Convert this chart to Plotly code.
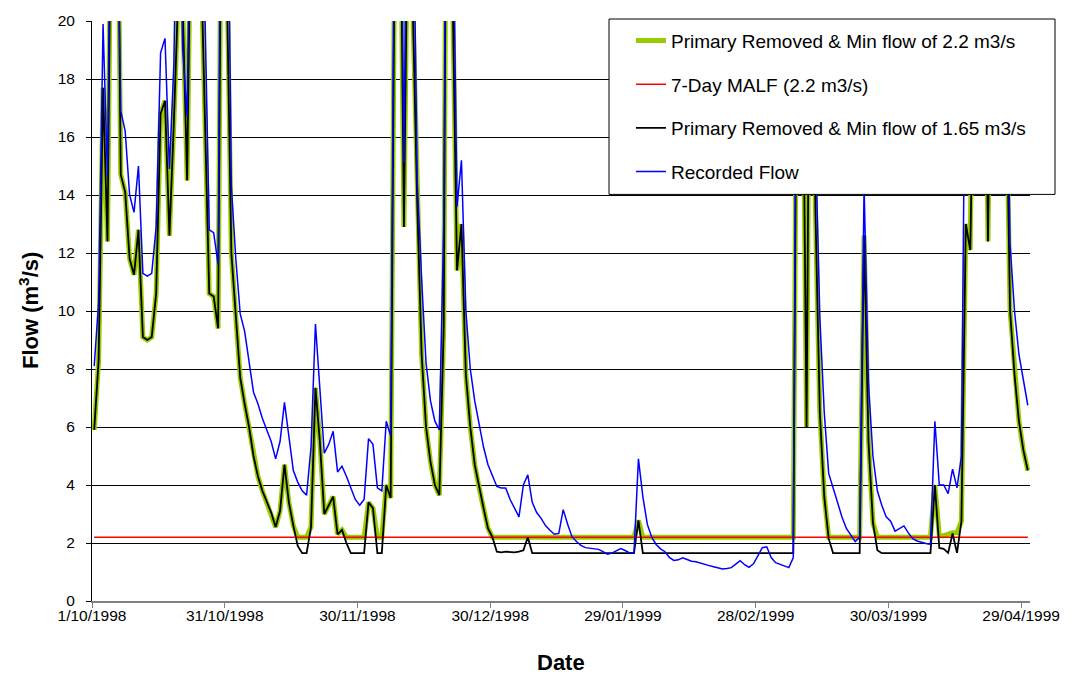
import pandas as pd
import plotly.graph_objects as go

# Daily flows, 1 Oct 1998 - 30 Apr 1999 (m3/s)
START_DATE = "1998-10-01"

primary_removed_min_2_2 = [
    5.9, 8.3, 17.7, 12.4, 28, 30, 14.7, 14.1, 11.8, 11.25,
    12.8, 9.1, 9.0, 9.1, 10.6, 16.8, 17.25, 12.6, 16.5, 21,
    20.5, 14.5, 26, 30, 23, 17, 10.6, 10.5, 9.4, 32,
    21, 12.0, 9.8, 7.7, 6.8, 6.0, 5.0, 4.3, 3.8, 3.4,
    3.05, 2.55, 3.1, 4.7, 3.4, 2.6, 2.2, 2.2, 2.2, 2.55,
    7.35, 5.5, 3.0, 3.3, 3.6, 2.3, 2.45, 2.2, 2.2, 2.2,
    2.2, 2.2, 3.4, 3.2, 2.2, 2.2, 4.0, 3.55, 25, 28,
    12.9, 26, 20.5, 13.75, 8.5, 6.0, 4.8, 4.0, 3.65, 9.5,
    40, 21, 11.4, 13.0, 7.8, 6.0, 4.7, 3.9, 3.2, 2.5,
    2.2, 2.2, 2.2, 2.2, 2.2, 2.2, 2.2, 2.2, 2.2, 2.2,
    2.2, 2.2, 2.2, 2.2, 2.2, 2.2, 2.2, 2.2, 2.2, 2.2,
    2.2, 2.2, 2.2, 2.2, 2.2, 2.2, 2.2, 2.2, 2.2, 2.2,
    2.2, 2.2, 2.2, 2.78, 2.2, 2.2, 2.2, 2.2, 2.2, 2.2,
    2.2, 2.2, 2.2, 2.2, 2.2, 2.2, 2.2, 2.2, 2.2, 2.2,
    2.2, 2.2, 2.2, 2.2, 2.2, 2.2, 2.2, 2.2, 2.2, 2.2,
    2.2, 2.2, 2.2, 2.2, 2.2, 2.2, 2.2, 2.2, 2.2, 25,
    22, 6.0, 28, 13.5, 6.5, 3.6, 2.2, 2.2, 2.2, 2.2,
    2.2, 2.2, 2.2, 2.2, 12.6, 5.5, 2.7, 2.2, 2.2, 2.2,
    2.2, 2.2, 2.2, 2.2, 2.2, 2.2, 2.2, 2.2, 2.2, 2.2,
    4.0, 2.25, 2.25, 2.3, 2.35, 2.35, 2.75, 13.0, 12.1, 28,
    30, 26, 12.4, 25, 30, 24, 19, 10.0, 7.8, 6.2,
    5.2, 4.5,
]

primary_removed_min_1_65 = [
    5.9, 8.3, 17.7, 12.4, 28, 30, 14.7, 14.1, 11.8, 11.25,
    12.8, 9.1, 9.0, 9.1, 10.6, 16.8, 17.25, 12.6, 16.5, 21,
    20.5, 14.5, 26, 30, 23, 17, 10.6, 10.5, 9.4, 32,
    21, 12.0, 9.8, 7.7, 6.8, 6.0, 5.0, 4.3, 3.8, 3.4,
    3.05, 2.55, 3.1, 4.7, 3.4, 2.6, 1.9, 1.65, 1.65, 2.55,
    7.35, 5.5, 3.0, 3.3, 3.6, 2.3, 2.45, 2.0, 1.65, 1.65,
    1.65, 1.65, 3.4, 3.2, 1.65, 1.65, 4.0, 3.55, 25, 28,
    12.9, 26, 20.5, 13.75, 8.5, 6.0, 4.8, 4.0, 3.65, 9.5,
    40, 21, 11.4, 13.0, 7.8, 6.0, 4.7, 3.9, 3.2, 2.5,
    2.2, 1.7, 1.68, 1.7, 1.68, 1.68, 1.7, 1.75, 2.2, 1.65,
    1.65, 1.65, 1.65, 1.65, 1.65, 1.65, 1.65, 1.65, 1.65, 1.65,
    1.65, 1.65, 1.65, 1.65, 1.65, 1.65, 1.65, 1.65, 1.65, 1.65,
    1.65, 1.65, 1.65, 2.78, 1.65, 1.65, 1.65, 1.65, 1.65, 1.65,
    1.65, 1.65, 1.65, 1.65, 1.65, 1.65, 1.65, 1.65, 1.65, 1.65,
    1.65, 1.65, 1.65, 1.65, 1.65, 1.65, 1.65, 1.65, 1.65, 1.65,
    1.65, 1.65, 1.65, 1.65, 1.65, 1.65, 1.65, 1.65, 1.65, 25,
    22, 6.0, 28, 13.5, 6.5, 3.6, 2.15, 1.65, 1.65, 1.65,
    1.65, 1.65, 1.65, 1.65, 12.6, 5.5, 2.7, 1.75, 1.65, 1.65,
    1.65, 1.65, 1.65, 1.65, 1.65, 1.65, 1.65, 1.65, 1.65, 1.65,
    4.0, 1.83, 1.8, 1.66, 2.33, 1.66, 2.75, 13.0, 12.1, 28,
    30, 26, 12.4, 25, 30, 24, 19, 10.0, 7.8, 6.2,
    5.2, 4.5,
]

recorded_flow = [
    8.1, 10.3, 19.9, 14.6, 30, 27, 16.9, 16.2, 14.0, 13.4,
    15.0, 11.3, 11.2, 11.3, 12.9, 18.9, 19.4, 14.9, 18.5, 28,
    19, 16.7, 28, 32, 26, 20.5, 12.8, 12.7, 11.6, 35,
    28, 14.3, 11.8, 9.9, 9.3, 8.2, 7.2, 6.8, 6.3, 5.9,
    5.5, 4.9, 5.5, 6.85, 5.6, 4.5, 4.1, 3.8, 3.65, 5.3,
    9.55, 7.3, 5.1, 5.4, 5.85, 4.45, 4.65, 4.3, 3.9, 3.5,
    3.3, 3.5, 5.6, 5.4, 3.9, 3.8, 6.2, 5.7, 28, 30,
    15.1, 30, 26, 14.5, 11.1, 8.2, 6.9, 6.2, 5.9, 13,
    40, 25, 13.6, 15.2, 10.0, 8.0, 6.9, 6.05, 5.3, 4.7,
    4.3, 3.95, 3.9, 3.9, 3.5, 3.2, 2.9, 4.0, 4.35, 3.4,
    3.05, 2.85, 2.6, 2.44, 2.3, 2.33, 3.15, 2.65, 2.21, 2.05,
    1.92, 1.84, 1.82, 1.8, 1.78, 1.7, 1.61, 1.65, 1.72, 1.81,
    1.74, 1.66, 1.66, 4.9, 3.6, 2.65, 2.2, 1.95, 1.8, 1.7,
    1.5, 1.4, 1.42, 1.49, 1.43, 1.37, 1.35, 1.3, 1.26, 1.22,
    1.18, 1.14, 1.1, 1.12, 1.15, 1.27, 1.39, 1.25, 1.16, 1.28,
    1.55, 1.84, 1.87, 1.5, 1.32, 1.26, 1.2, 1.15, 1.5, 30,
    28, 16, 30, 16, 9.8, 6.5, 4.4, 3.9, 3.4, 2.9,
    2.5, 2.25, 2.05, 2.2, 14.3, 7.5, 5.0, 3.8, 3.3, 2.9,
    2.75, 2.41, 2.5, 2.59, 2.35, 2.15, 2.07, 2.02, 1.98, 1.95,
    6.2, 4.0, 4.0, 3.7, 4.55, 3.9, 5.0, 22, 25, 30,
    32, 30, 17, 30, 32, 28, 21, 12.3, 10.0, 8.5,
    7.6, 6.75,
]

MALF_7DAY = 2.2

TICK_LABELS = ["1/10/1998", "31/10/1998", "30/11/1998", "30/12/1998",
               "29/01/1999", "28/02/1999", "30/03/1999", "29/04/1999"]

# each day's value sits in the middle of its day slot
days = pd.date_range(START_DATE, periods=len(recorded_flow), freq="D")
x = days + pd.Timedelta(hours=12)
malf = [MALF_7DAY] * len(days)

FONT = "Arial, 'Liberation Sans', sans-serif"

fig = go.Figure()
fig.add_trace(go.Scatter(
    x=x, y=primary_removed_min_2_2, mode="lines",
    name="Primary Removed & Min flow of 2.2 m3/s", legendgroup="a",
    line=dict(color="#99CC00", width=5)))
fig.add_trace(go.Scatter(
    x=x, y=malf, mode="lines",
    name="7-Day MALF (2.2 m3/s)", legendgroup="b",
    line=dict(color="#FF0000", width=1.5)))
fig.add_trace(go.Scatter(
    x=x, y=primary_removed_min_1_65, mode="lines",
    name="Primary Removed & Min flow of 1.65 m3/s", legendgroup="c",
    line=dict(color="#000000", width=1.8)))
fig.add_trace(go.Scatter(
    x=x, y=recorded_flow, mode="lines",
    name="Recorded Flow", legendgroup="d",
    line=dict(color="#0000FF", width=1.5)))

tick_vals = pd.date_range(START_DATE, periods=len(TICK_LABELS), freq="30D")

fig.update_layout(
    width=1074, height=676,
    margin=dict(l=92, r=44, t=19, b=75, pad=0),
    paper_bgcolor="white", plot_bgcolor="white",
    font=dict(family=FONT, color="black", size=15),
    showlegend=True,
    legend=dict(
        x=0.5746, y=0.9989, xanchor="left", yanchor="top",
        bgcolor="rgba(0,0,0,0)", borderwidth=0,
        font=dict(family=FONT, size=19, color="black"),
        traceorder="grouped", tracegroupgap=16,
    ),
    xaxis=dict(
        type="date",
        range=[START_DATE, "1999-05-01"],
        tickmode="array", tickvals=tick_vals, ticktext=TICK_LABELS,
        ticks="outside", ticklen=5, tickcolor="#808080", tickwidth=1,
        showline=True, linecolor="#808080", linewidth=1.5,
        showgrid=False, zeroline=False, ticklabelstandoff=-5,
        tickfont=dict(family=FONT, size=15.5, color="black"),
    ),
    yaxis=dict(
        range=[0, 20], tickmode="linear", tick0=0, dtick=2,
        ticks="outside", ticklen=5, tickcolor="#000000", tickwidth=1,
        showline=True, linecolor="#000000", linewidth=1,
        showgrid=True, gridcolor="#000000", gridwidth=1,
        zeroline=False, ticklabelstandoff=8,
        tickfont=dict(family=FONT, size=15.5, color="black"),
    ),
    shapes=[dict(
        type="rect", xref="paper", yref="paper",
        x0=(609 - 92) / 938, x1=(1055 - 92) / 938,
        y0=(601 - 193) / 582, y1=(601 - 17) / 582,
        line=dict(color="black", width=1), fillcolor="white", layer="above",
    )],
    annotations=[
        dict(text="<b>Flow (m<sup>3</sup>/s)</b>", xref="paper", yref="paper",
             x=0, y=0.5, xshift=-63, textangle=-90, showarrow=False,
             xanchor="center", yanchor="middle",
             font=dict(family=FONT, size=22, color="black")),
        dict(text="<b>Date</b>", xref="paper", yref="paper",
             x=0.5, y=0, yshift=-61, showarrow=False,
             xanchor="center", yanchor="middle",
             font=dict(family=FONT, size=22, color="black")),
    ],
)

fig.write_html("out.html")
